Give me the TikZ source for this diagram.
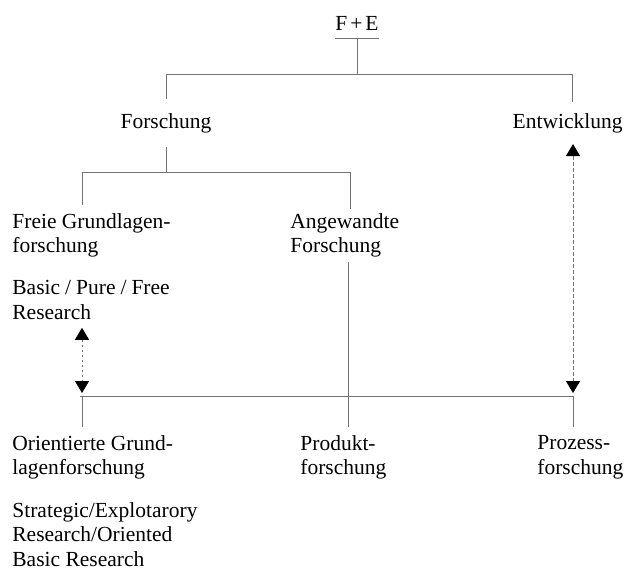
\documentclass[tikz,border=0pt]{standalone}
\usepackage{fontspec}
\setmainfont{Liberation Serif}
\usetikzlibrary{arrows.meta}

\tikzset{
    txt/.style={inner xsep=0pt, inner ysep=4pt, align=left, font=\fontsize{10.75pt}{12.25pt}\selectfont},
    ln/.style={draw=black!55, line width=0.5pt},
    tri/.style={{Triangle[width=7pt,length=6pt,black]}-{Triangle[width=7pt,length=6pt,black]}, shorten >=1.5pt}
}

\begin{document}
\begin{tikzpicture}[x=0.5pt,y=-0.5pt]
    \useasboundingbox (0,0) rectangle (624,570);
    \node[txt, anchor=base] at (357,30) (FE) {F\kern1.5pt+\kern1.5pt E};
    \node[txt, anchor=base, inner ysep=7pt] at (166,128) (F) {Forschung};
    \node[txt, anchor=base east, inner ysep=5.5pt] at (623,128) (E) {Entwicklung};
    \node[txt, anchor=north west] at (12,205) (FG) {Freie Grundlagen-\\forschung};
    \node[txt, anchor=north west, inner ysep=2pt] at (290,209) (AF) {Angewandte\\Forschung};
    \node[txt, anchor=north west] at (12,272) (BR) {Basic\kern2.5pt/\kern2.5pt Pure\kern2.5pt/\kern2.5pt Free\\Research};
    \node[txt, anchor=north west] at (12,427) (OG) {Orientierte Grund-\\lagenforschung};
    \node[txt, anchor=north west] at (12,494) (SR) {Strategic/Explotarory\\Research/Oriented\\Basic Research};
    \node[txt, anchor=north west] at (300,427) (PF) {Produkt-\\forschung};
    \node[txt, anchor=north west] at (537,427) (PZ) {Prozess-\\forschung};
    \coordinate (C0) at (357,74);
    \coordinate (CF) at (166,74);
    \coordinate (CE) at (572,74);
    \coordinate (C1) at (166,172);
    \coordinate (CL) at (82,172);
    \coordinate (CA) at (350,172);
    \coordinate (BL) at (82,396);
    \coordinate (BM) at (348,396);
    \coordinate (BE) at (573,396);
    \draw[ln] (FE.south west) -- (FE.south east);
    \draw[ln] (FE.south) -- (C0);
    \draw[ln] (CF) -- (CE);
    \draw[ln] (CF) -- (F.north);
    \draw[ln] (CE) -- (CE |- E.north);
    \draw[ln] (F.south) -- (C1);
    \draw[ln] (CL) -- (CA);
    \draw[ln] (CL) -- (CL |- FG.north);
    \draw[ln] (CA) -- (CA |- AF.north);
    \draw[ln] (AF.south -| BM) -- (BM);
    \draw[ln] ([xshift=-1pt]BL) -- (BE);
    \draw[ln] (BL) -- (BL |- OG.north);
    \draw[ln] (BM) -- (BM |- PF.north);
    \draw[ln] (BE) -- (BE |- PZ.north);
    \draw[ln, tri, dash pattern=on 1pt off 1.5pt] (BR.south -| BL) -- (BL);
    \draw[ln, tri, dash pattern=on 2pt off 1pt] (E.south -| BE) -- (BE);
\end{tikzpicture}
\end{document}
